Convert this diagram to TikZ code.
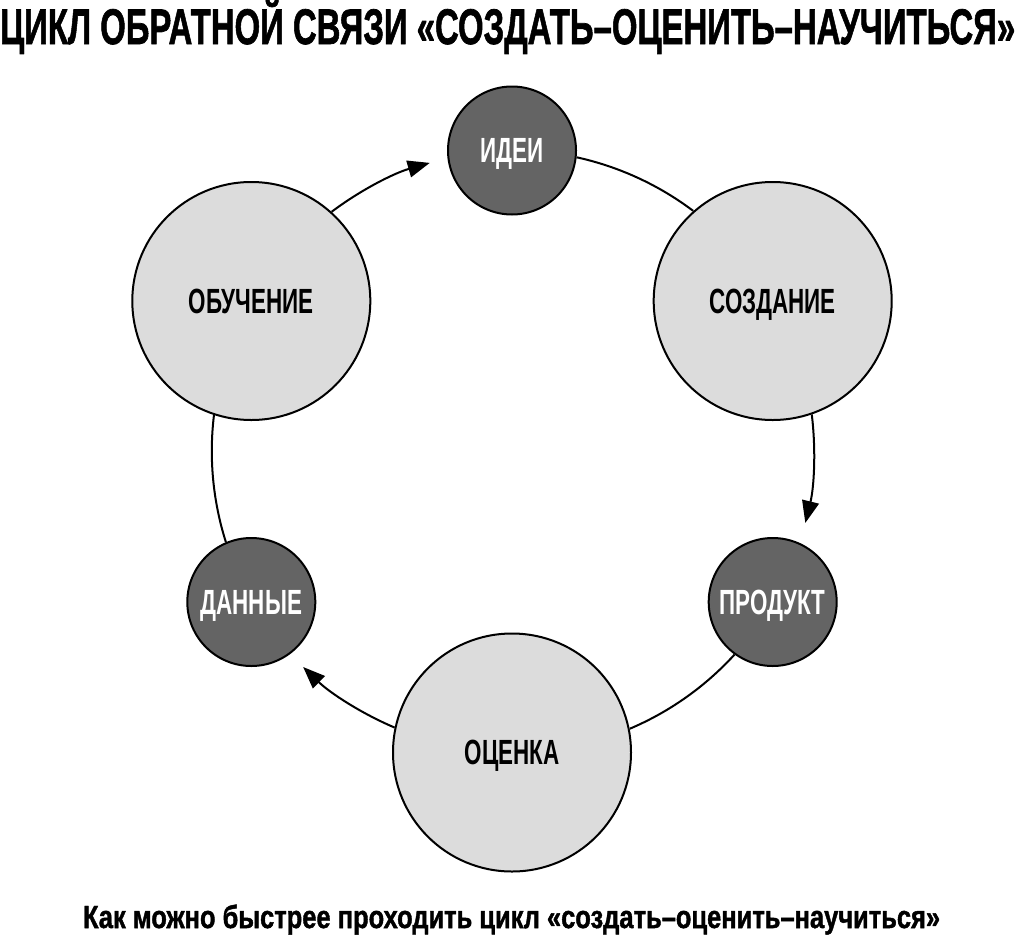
\documentclass[tikz,border=0pt]{standalone}
\usepackage{fontspec}
\usepackage{graphicx}
\setmainfont{Liberation Sans}
\newfontfamily\condfont[FakeStretch=0.64]{Liberation Sans}
\newfontfamily\heavyfont[BoldFeatures={FakeBold=1.5}]{Liberation Sans}
\usetikzlibrary{arrows.meta}
\definecolor{darkfill}{HTML}{646464}
\definecolor{lightfill}{HTML}{DCDCDC}
\begin{document}
\begin{tikzpicture}[x=1bp,y=1bp,
  circ/.style={circle, draw=black, line width=2bp, inner sep=0pt,
    font=\condfont\bfseries\fontsize{35bp}{40bp}\selectfont,
    text height=24bp, text depth=0pt},
  bigc/.style={circ, fill=lightfill, text=black, minimum size=238bp},
  smallc/.style={circ, fill=darkfill, text=white, minimum size=128bp},
  link/.style={line width=2bp},
  flow/.style={link, -{Triangle[length=22bp,width=17bp]}},
  label/.style={anchor=base, inner sep=0pt}]
\useasboundingbox (0,0) rectangle (1024,-941);
\node[label, anchor=base west] (title) at (0,-44)
  {\resizebox{1015bp}{\height}{\heavyfont\bfseries\fontsize{50bp}{52bp}\selectfont ЦИКЛ ОБРАТНОЙ СВЯЗИ «СОЗДАТЬ–ОЦЕНИТЬ–НАУЧИТЬСЯ»}};
\node[label] (caption) at (511.5,-928)
  {\resizebox{857bp}{\height}{\heavyfont\bfseries\fontsize{32bp}{34bp}\selectfont Как можно быстрее проходить цикл «создать–оценить–научиться»}};
\coordinate (C) at (512,-451.5);
\node[smallc] (idei)  at (512,-150.5)   {ИДЕИ};
\node[bigc]   (sozd)  at (772.7,-301)   {СОЗДАНИЕ};
\node[smallc] (prod)  at (772.7,-602)   {ПРОДУКТ};
\node[bigc]   (ocen)  at (512,-752.5)   {ОЦЕНКА};
\node[smallc] (dann)  at (251.3,-602)   {ДАННЫЕ};
\node[bigc]   (obuch) at (251.3,-301)   {ОБУЧЕНИЕ};
\draw[link] (idei.-6.2)   arc[start angle=77.6,   end angle=53,     radius=301];
\draw[flow] (sozd.-71.5)  arc[start angle=7,      end angle=-13.8,  radius=301];
\draw[link] (prod.-126.2) arc[start angle=-42.4,  end angle=-67,    radius=301];
\draw[flow] (ocen.168.5)  arc[start angle=-113,   end angle=-134,   radius=301];
\draw[link] (dann.113.8)  arc[start angle=-162.4, end angle=-187,   radius=301];
\draw[flow] (obuch.48.5)  arc[start angle=127,    end angle=106,    radius=301];
\end{tikzpicture}
\end{document}
